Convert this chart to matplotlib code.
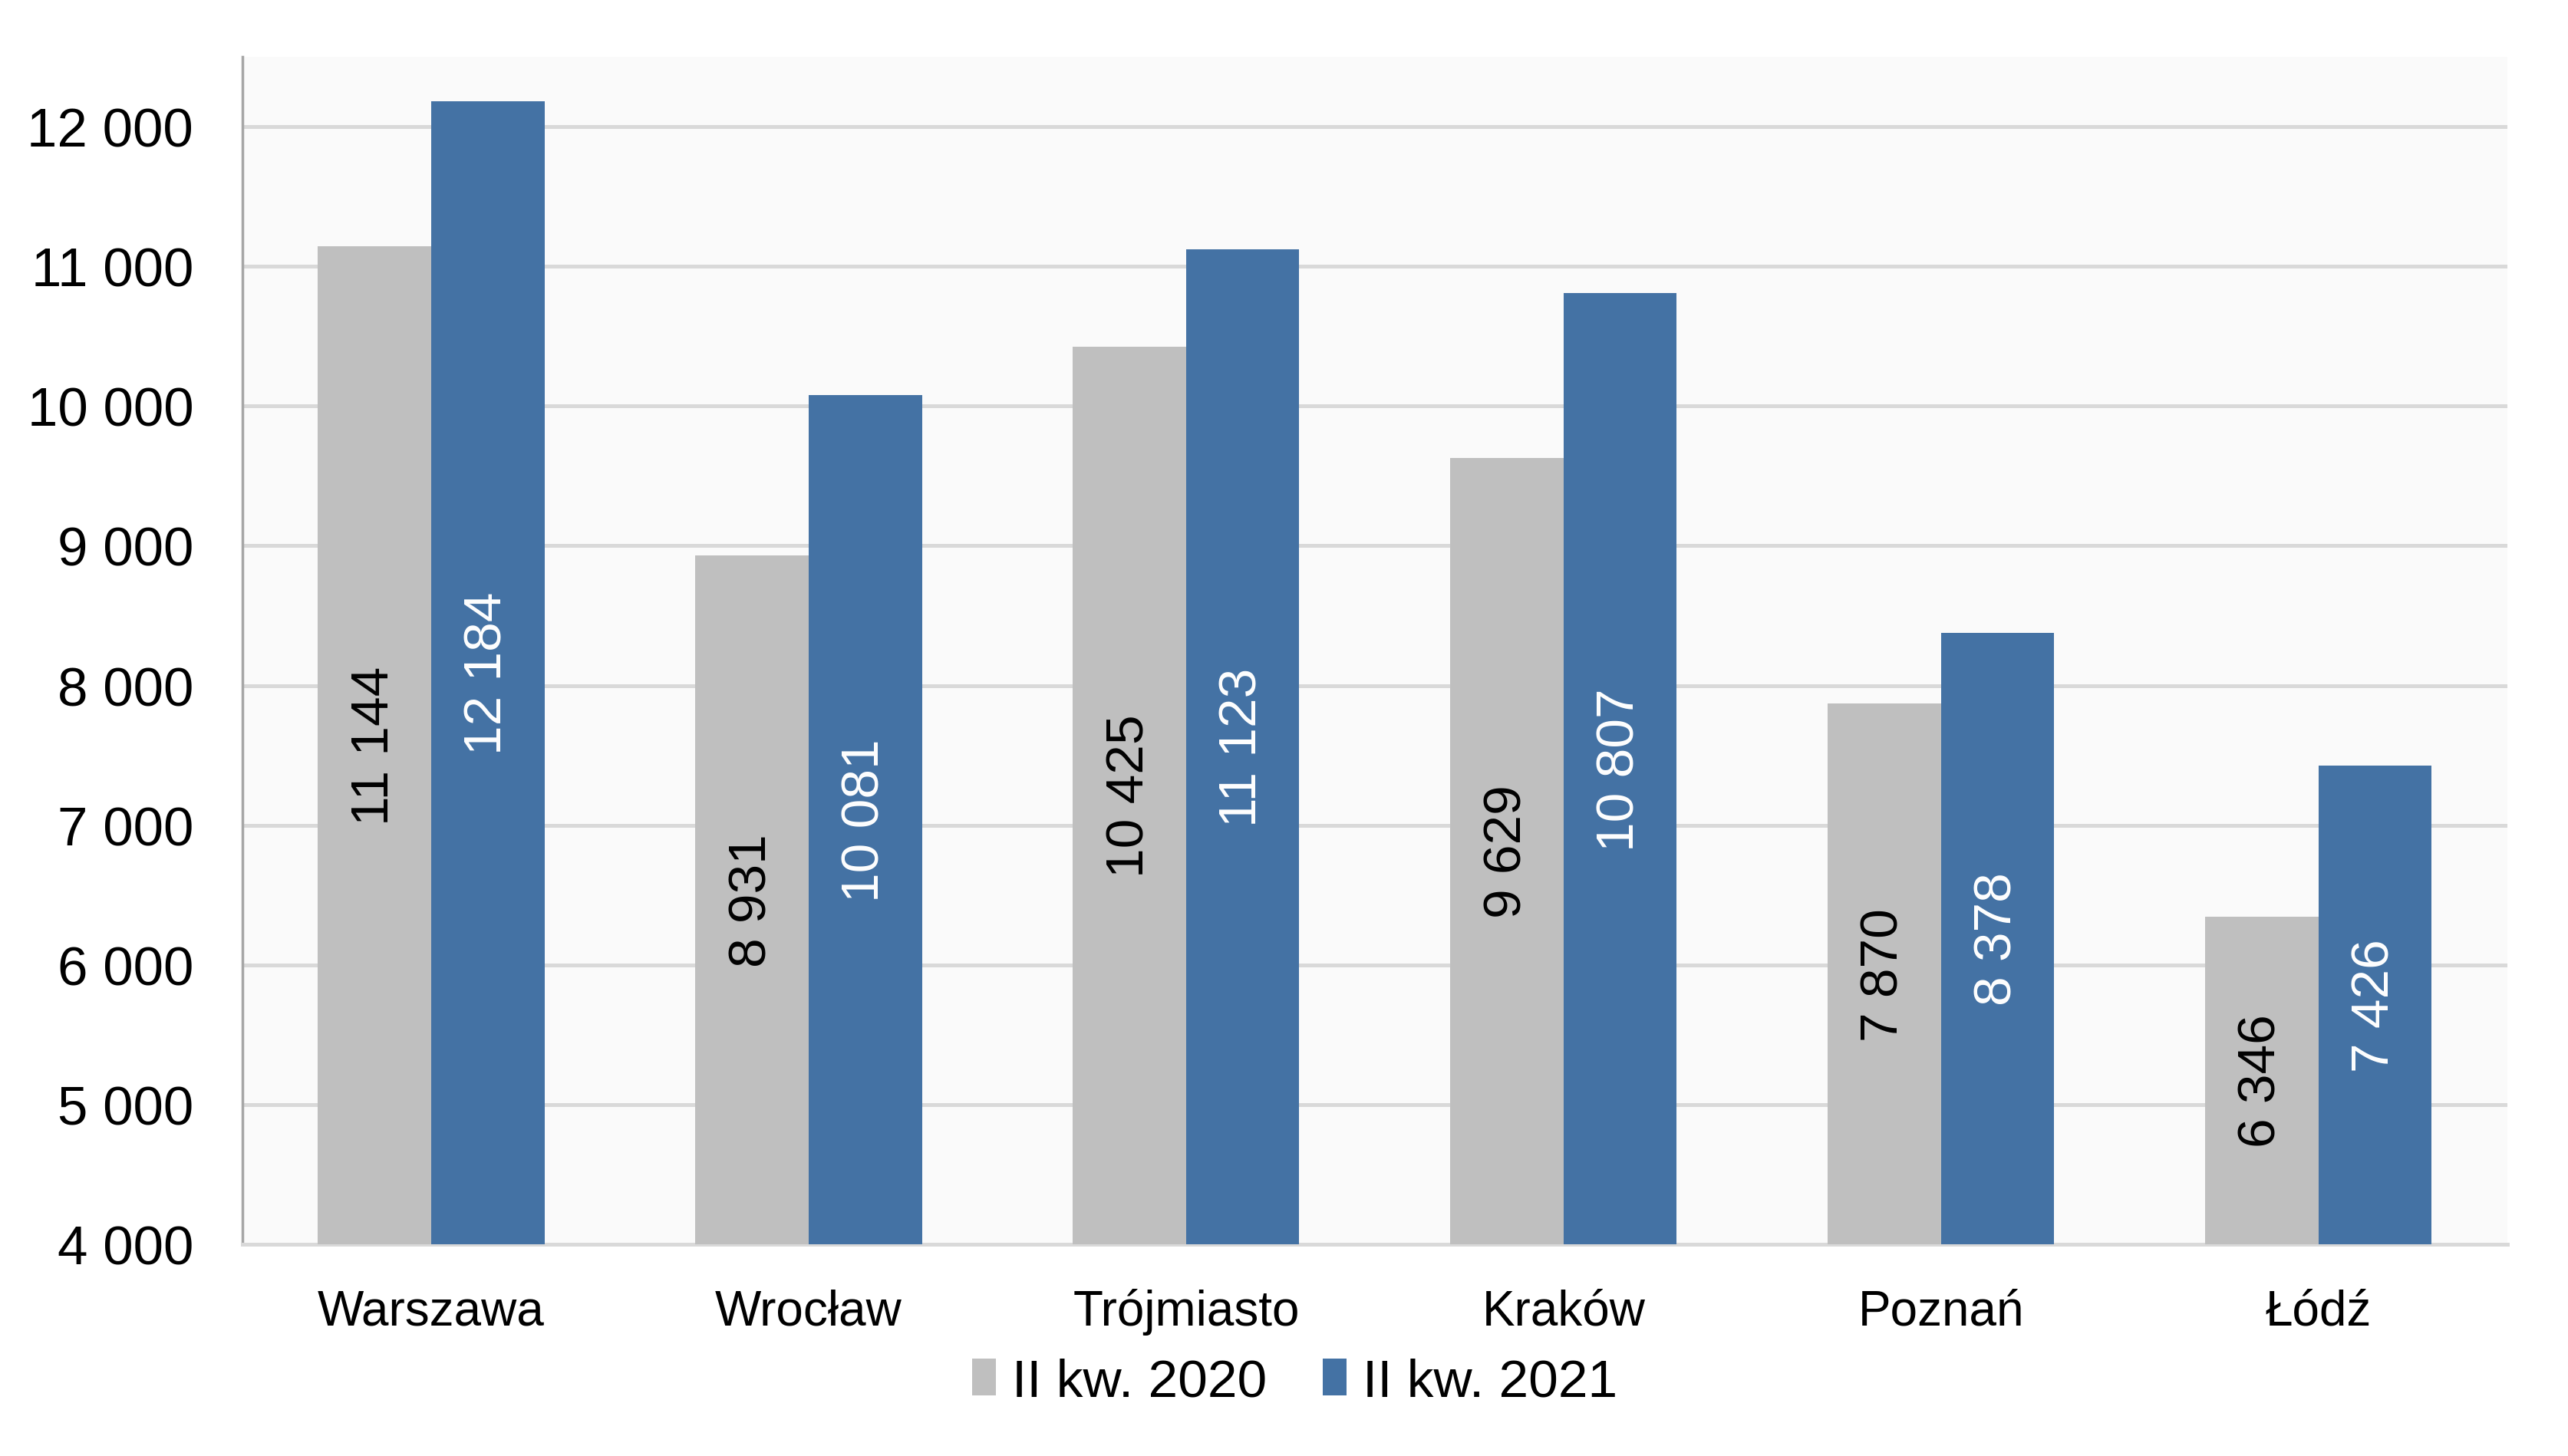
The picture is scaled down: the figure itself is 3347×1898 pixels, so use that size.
import matplotlib
matplotlib.use("Agg")
import matplotlib.pyplot as plt
import numpy as np
from matplotlib.ticker import FuncFormatter

cities = ["Warszawa", "Wrocław", "Trójmiasto", "Kraków", "Poznań", "Łódź"]
q2_2020 = [11144, 8931, 10425, 9629, 7870, 6346]
q2_2021 = [12184, 10081, 11123, 10807, 8378, 7426]
series_names = ["II kw. 2020", "II kw. 2021"]
yticks = [4000, 5000, 6000, 7000, 8000, 9000, 10000, 11000, 12000]

plt.rcParams['font.family'] = ['Liberation Sans', 'DejaVu Sans']

fig = plt.figure(figsize=(33.48, 18.99), dpi=100)
ax = fig.add_axes([0.0944, 0.1453, 0.8816, 0.8152])
ax.set_facecolor("#FAFAFA")

base = 4000
x = np.arange(len(cities))
w = 0.30
grey = "#BFBFBF"
blue = "#4472A4"

b1 = ax.bar(x - w/2, np.array(q2_2020) - base, w, bottom=base, color=grey, label=series_names[0], zorder=3)
b2 = ax.bar(x + w/2, np.array(q2_2021) - base, w, bottom=base, color=blue, label=series_names[1], zorder=3)

def fmt(v):
    return f"{v:,}".replace(",", " ")

for xi, v in zip(x - w/2, q2_2020):
    ax.text(xi, (base + v) / 2, fmt(v), rotation=90, ha="center", va="center",
            fontsize=50, color="black", zorder=4)
for xi, v in zip(x + w/2, q2_2021):
    ax.text(xi, (base + v) / 2, fmt(v), rotation=90, ha="center", va="center",
            fontsize=50, color="white", zorder=4)

ax.set_xlim(-0.5, len(cities) - 0.5)
ax.set_ylim(4000, 12500)
ax.set_yticks(yticks)
ax.yaxis.set_major_formatter(FuncFormatter(lambda v, p: fmt(int(v))))
ax.set_xticks(x)
ax.set_xticklabels(cities)
ax.tick_params(axis="y", length=0, pad=46, labelsize=51)
ax.tick_params(axis="x", length=0, pad=41, labelsize=46)

ax.grid(axis="y", color="#D9D9D9", linewidth=3.6, zorder=0)
ax.set_axisbelow(True)
for s in ["top", "right"]:
    ax.spines[s].set_visible(False)
ax.spines["bottom"].set_color("#D9D9D9")
ax.spines["bottom"].set_linewidth(3.6)
ax.spines["left"].set_color("#A6A6A6")
ax.spines["left"].set_linewidth(2.5)

fig.legend(handles=[b1, b2], labels=series_names, loc="center",
           bbox_to_anchor=(0.504, 0.051), ncol=2, frameon=False, fontsize=50,
           handlelength=0.45, handleheight=0.7, handletextpad=0.3, columnspacing=1.05)

fig.savefig("out.png", dpi=100, facecolor="white")
